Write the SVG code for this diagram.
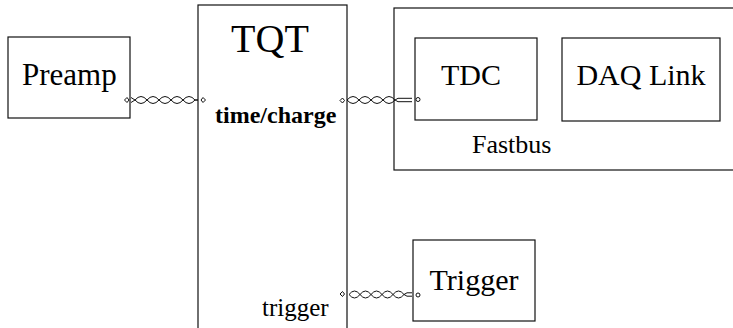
<svg xmlns="http://www.w3.org/2000/svg" width="733" height="328" viewBox="0 0 733 328">
<style>
.box{fill:#fff;stroke:#111;stroke-width:1.2}
.t{font-family:"Liberation Serif","Times New Roman",serif;fill:#000}
.w{fill:none;stroke:#111;stroke-width:1}
.m{fill:#fff;stroke:#111;stroke-width:1}
</style>
<rect width="733" height="328" fill="#fff"/>
<g id="fastbus">
<rect class="box" x="394" y="8" width="345" height="162"/>
<text class="t" x="472" y="153" font-size="26">Fastbus</text>
</g>
<g id="preamp">
<rect class="box" x="8" y="37" width="122" height="81"/>
<text class="t" x="22" y="85" font-size="31">Preamp</text>
</g>
<g id="tqt">
<rect class="box" x="198" y="5" width="149" height="330"/>
<text class="t" x="270" y="52" font-size="40" text-anchor="middle">TQT</text>
<text class="t" x="215" y="123" font-size="24" font-weight="bold">time/charge</text>
<text class="t" x="262" y="316" font-size="25">trigger</text>
</g>
<g id="tdc">
<rect class="box" x="415" y="38" width="122" height="82"/>
<text class="t" x="471" y="85" font-size="30" text-anchor="middle">TDC</text>
</g>
<g id="daqlink">
<rect class="box" x="562" y="38" width="158" height="83"/>
<text class="t" x="641" y="85" font-size="30" text-anchor="middle">DAQ Link</text>
</g>
<g id="trigger">
<rect class="box" x="413" y="240" width="122" height="81"/>
<text class="t" x="474" y="290" font-size="30" text-anchor="middle">Trigger</text>
</g>
<g id="connectors">
<path class="w" d="M131,97.5 L135,100 q6,-7 12,0 t12,0 t12,0 t12,0 t12,0 L198,100"/>
<path class="w" d="M131,102.5 L135,100 q6,7 12,0 t12,0 t12,0 t12,0 t12,0 L198,100"/>
<path class="m" d="M124.5,100 l2.5,-2.5 l2,2.5 l-2,2.5 z"/>
<path class="m" d="M201,100 l2,-2.5 l2.5,2.5 l-2.5,2.5 z"/>

<path class="w" d="M347,100 q6,-7 12,0 t12,0 t12,0 t12,0 L398,98.3 L412,98.3"/>
<path class="w" d="M347,100 q6,7 12,0 t12,0 t12,0 t12,0 L398,101.7 L412,101.7"/>
<path class="m" d="M340,100.5 l2.5,-2.5 l2,2.5 l-2,2.5 z"/>
<circle class="m" cx="418" cy="99.5" r="2"/>

<path class="w" d="M349,294.5 q5.5,-7 11,0 t11,0 t11,0 t11,0 t11,0 L407,292.8 L412,292.8"/>
<path class="w" d="M349,294.5 q5.5,7 11,0 t11,0 t11,0 t11,0 t11,0 L407,296.2 L412,296.2"/>
<path class="m" d="M340,294 l2.5,-2.5 l2,2.5 l-2,2.5 z"/>
<circle class="m" cx="418" cy="295" r="2"/>
</g>
</svg>
